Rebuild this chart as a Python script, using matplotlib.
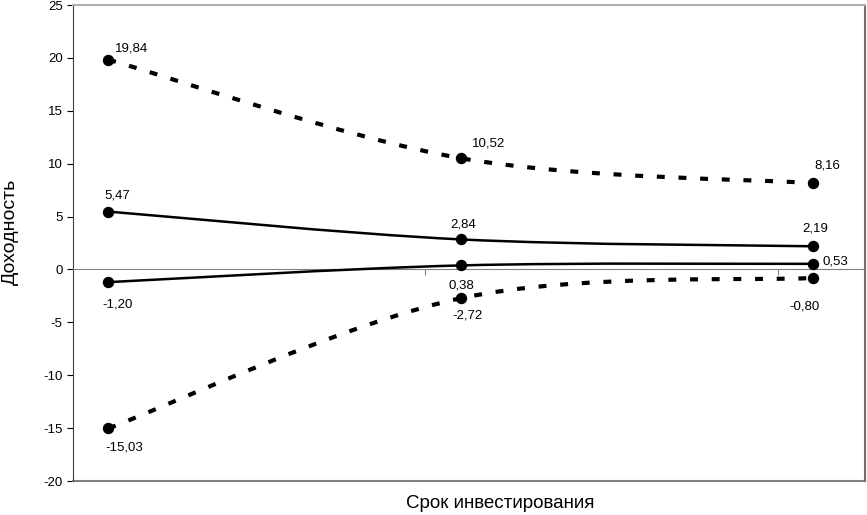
import numpy as np
import matplotlib
matplotlib.use("Agg")
from matplotlib import pyplot as plt
from matplotlib.path import Path
from matplotlib.patches import PathPatch

plt.rcParams['font.family'] = ['Liberation Sans', 'DejaVu Sans']
plt.rcParams['axes.unicode_minus'] = False

# three investment horizons (no category names shown on the chart)
periods = [1, 2, 3]

mean_high = [5.47, 2.84, 2.19]
mean_low = [-1.20, 0.38, 0.53]
band_high = [19.84, 10.52, 8.16]
band_low = [-15.03, -2.72, -0.80]

# label offsets in pixels (dx, dy) for each point
off_mean_high = [(-4, 16), (-10, 15), (-11, 18)]
off_mean_low = [(-6, -22), (-12, -20), (9, 2)]
off_band_high = [(7, 11), (11, 15), (1, 18)]
off_band_low = [(-3, -19), (-8, -17), (-24, -29)]


def fmt(v):
    return "{:.2f}".format(v).replace(".", ",")


def smooth_path(x, y):
    # Bezier segments like Excel's "smoothed line"
    x = np.asarray(x, float)
    y = np.asarray(y, float)
    px = np.concatenate([[x[0]], x, [x[-1]]])
    py = np.concatenate([[y[0]], y, [y[-1]]])
    verts = [(x[0], y[0])]
    codes = [Path.MOVETO]
    for i in range(len(x) - 1):
        j = i + 1
        c1 = (px[j] + (px[j + 1] - px[j - 1]) / 6, py[j] + (py[j + 1] - py[j - 1]) / 6)
        c2 = (px[j + 1] - (px[j + 2] - px[j]) / 6, py[j + 1] - (py[j + 2] - py[j]) / 6)
        verts += [c1, c2, (x[i + 1], y[i + 1])]
        codes += [Path.CURVE4] * 3
    return Path(verts, codes)


fig = plt.figure(figsize=(8.67, 5.15), dpi=100)
ax = fig.add_axes([73 / 867, 1 - 481 / 515, (865 - 73) / 867, (481 - 5) / 515])

series = [
    (mean_high, off_mean_high, "solid"),
    (mean_low, off_mean_low, "solid"),
    (band_high, off_band_high, "dashed"),
    (band_low, off_band_low, "dashed"),
]

for vals, offs, kind in series:
    if kind == "solid":
        patch = PathPatch(smooth_path(periods, vals), fill=False, lw=1.8, color="black", zorder=3)
    else:
        patch = PathPatch(smooth_path(periods, vals), fill=False, lw=3.0, color="black",
                          linestyle=(0, (1.9, 3.3)), capstyle="butt", zorder=3)
    ax.add_patch(patch)
    ax.plot(periods, vals, "o", color="black", ms=7.2, zorder=4)
    for xv, yv, (dx, dy) in zip(periods, vals, offs):
        ax.annotate(fmt(yv), (xv, yv), xytext=(dx, dy), textcoords="offset pixels",
                    ha="left", va="center", fontsize=9.5)

ax.set_xlim(0.9, 3.147)
ax.set_ylim(-20, 25)
ax.set_yticks(np.arange(-20, 26, 5))
ax.tick_params(axis="y", labelsize=9.5, length=4, width=0.8, colors="black")

# category axis drawn at zero
ax.spines["bottom"].set_position(("data", 0))
ax.spines["bottom"].set_color("#808080")
ax.set_xticks([1.9, 2.9])
ax.set_xticklabels([])
ax.tick_params(axis="x", length=4, width=0.8, color="#808080")
ax.axhline(-20, color="#808080", lw=1.5, clip_on=False)
ax.spines["top"].set_color("#b0b0b0")
ax.spines["top"].set_linewidth(1.5)
ax.spines["right"].set_color("#707070")
ax.spines["right"].set_linewidth(1.5)
ax.spines["left"].set_color("#404040")

fig.text(10 / 867, 1 - 232 / 515, "Доходность", rotation=90, ha="center", va="center", fontsize=14)
fig.text(500 / 867, 1 - 503 / 515, "Срок инвестирования", ha="center", va="center", fontsize=13.5)

fig.savefig("out.png", dpi=100)
